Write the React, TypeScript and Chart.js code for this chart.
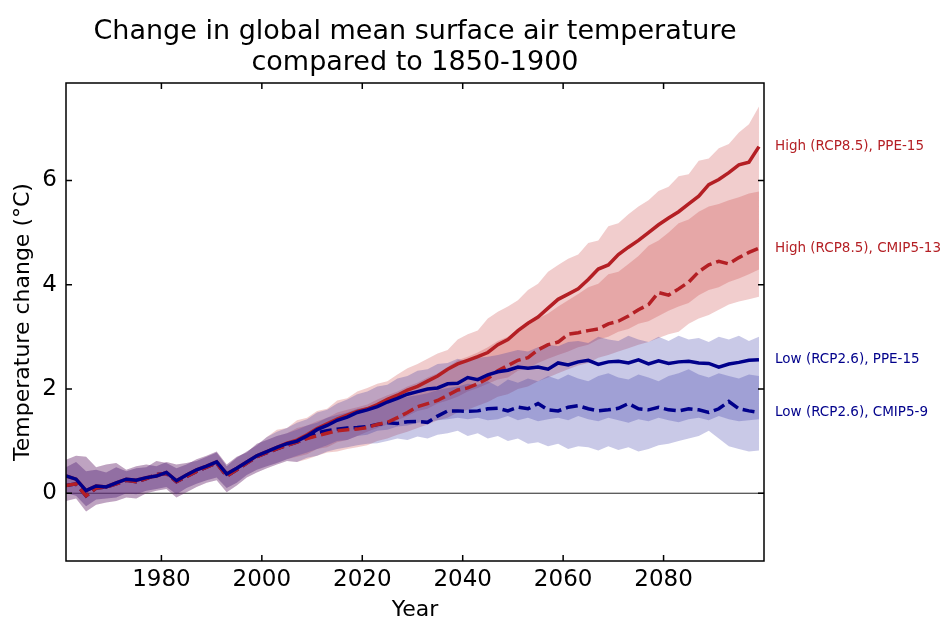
import React, { useEffect, useRef } from 'react';
import Chart from 'chart.js/auto';

// years (every second year)
const YEARS = [
  1961, 1963, 1965, 1967, 1969, 1971, 1973, 1975, 1977, 1979,
  1981, 1983, 1985, 1987, 1989, 1991, 1993, 1995, 1997, 1999,
  2001, 2003, 2005, 2007, 2009, 2011, 2013, 2015, 2017, 2019,
  2021, 2023, 2025, 2027, 2029, 2031, 2033, 2035, 2037, 2039,
  2041, 2043, 2045, 2047, 2049, 2051, 2053, 2055, 2057, 2059,
  2061, 2063, 2065, 2067, 2069, 2071, 2073, 2075, 2077, 2079,
  2081, 2083, 2085, 2087, 2089, 2091, 2093, 2095, 2097, 2099,
];

const X_TICKS = [1980, 2000, 2020, 2040, 2060, 2080];
const Y_TICKS = [0, 2, 4, 6];

// central estimates
const HIGH_PPE = [
  0.33, 0.27, 0.05, 0.14, 0.12, 0.20, 0.27, 0.25, 0.30, 0.33,
  0.40, 0.24, 0.35, 0.45, 0.52, 0.60, 0.37, 0.48, 0.60, 0.72,
  0.80, 0.88, 0.96, 1.02, 1.12, 1.24, 1.33, 1.42, 1.50, 1.57,
  1.62, 1.70, 1.80, 1.88, 1.98, 2.05, 2.15, 2.25, 2.38, 2.48,
  2.55, 2.62, 2.70, 2.85, 2.95, 3.12, 3.26, 3.38, 3.55, 3.72,
  3.82, 3.92, 4.10, 4.30, 4.38, 4.58, 4.72, 4.85, 5.00, 5.15,
  5.28, 5.40, 5.55, 5.70, 5.92, 6.02, 6.15, 6.30, 6.35, 6.65,
];
const HIGH_CMIP = [
  0.15, 0.18, -0.05, 0.10, 0.12, 0.18, 0.25, 0.22, 0.28, 0.36,
  0.38, 0.22, 0.32, 0.42, 0.50, 0.58, 0.33, 0.45, 0.58, 0.70,
  0.78, 0.85, 0.92, 0.98, 1.05, 1.10, 1.15, 1.20, 1.22, 1.23,
  1.26, 1.32, 1.36, 1.45, 1.55, 1.66, 1.72, 1.78, 1.88, 1.98,
  2.02, 2.10, 2.20, 2.35, 2.45, 2.55, 2.60, 2.75, 2.85, 2.90,
  3.05, 3.08, 3.12, 3.15, 3.25, 3.30, 3.40, 3.52, 3.62, 3.85,
  3.80, 3.92, 4.05, 4.25, 4.38, 4.45, 4.40, 4.52, 4.62, 4.70,
];
const LOW_PPE = [
  0.33, 0.27, 0.05, 0.14, 0.12, 0.20, 0.27, 0.25, 0.30, 0.33,
  0.40, 0.24, 0.35, 0.45, 0.52, 0.60, 0.37, 0.48, 0.60, 0.72,
  0.80, 0.88, 0.95, 1.00, 1.10, 1.22, 1.30, 1.40, 1.46, 1.55,
  1.60, 1.66, 1.75, 1.82, 1.90, 1.95, 2.00, 2.02, 2.10, 2.11,
  2.22, 2.18, 2.27, 2.33, 2.36, 2.42, 2.40, 2.42, 2.38, 2.50,
  2.46, 2.52, 2.55, 2.47, 2.52, 2.53, 2.50, 2.56, 2.48, 2.54,
  2.49, 2.52, 2.53, 2.50, 2.49, 2.42, 2.48, 2.51, 2.55, 2.56,
];
const LOW_CMIP = [
  0.15, 0.18, -0.05, 0.10, 0.12, 0.18, 0.25, 0.22, 0.28, 0.36,
  0.38, 0.22, 0.32, 0.42, 0.50, 0.58, 0.33, 0.45, 0.58, 0.70,
  0.78, 0.85, 0.92, 0.98, 1.06, 1.16, 1.20, 1.23, 1.25, 1.26,
  1.28, 1.32, 1.35, 1.34, 1.37, 1.38, 1.36, 1.48, 1.58, 1.58,
  1.57, 1.58, 1.62, 1.63, 1.58, 1.65, 1.62, 1.72, 1.60, 1.58,
  1.65, 1.68, 1.62, 1.58, 1.60, 1.63, 1.72, 1.62, 1.60, 1.65,
  1.60, 1.58, 1.62, 1.60, 1.55, 1.62, 1.76, 1.62, 1.58, 1.55,
];

// uncertainty ranges
const HIGH_PPE_UPPER = [
  0.64, 0.72, 0.70, 0.50, 0.55, 0.58, 0.45, 0.52, 0.55, 0.52,
  0.60, 0.55, 0.58, 0.62, 0.70, 0.78, 0.52, 0.68, 0.80, 0.92,
  1.08, 1.22, 1.25, 1.40, 1.45, 1.58, 1.62, 1.78, 1.82, 1.95,
  2.02, 2.10, 2.15, 2.28, 2.40, 2.48, 2.58, 2.68, 2.75, 2.95,
  3.05, 3.12, 3.35, 3.48, 3.58, 3.70, 3.90, 4.02, 4.25, 4.38,
  4.50, 4.58, 4.80, 4.85, 5.12, 5.18, 5.35, 5.50, 5.62, 5.80,
  5.88, 6.08, 6.12, 6.38, 6.42, 6.62, 6.70, 6.92, 7.08, 7.42,
];
const HIGH_PPE_LOWER = [
  0.00, -0.05, -0.25, -0.12, -0.10, -0.08, 0.00, -0.02, 0.05, 0.08,
  0.12, -0.02, 0.10, 0.18, 0.25, 0.30, 0.10, 0.20, 0.35, 0.45,
  0.52, 0.58, 0.65, 0.70, 0.75, 0.85, 0.88, 0.98, 1.02, 1.10,
  1.18, 1.25, 1.32, 1.40, 1.48, 1.58, 1.62, 1.72, 1.78, 1.85,
  1.95, 2.02, 2.10, 2.18, 2.22, 2.35, 2.40, 2.50, 2.58, 2.65,
  2.72, 2.80, 2.85, 2.95, 3.00, 3.10, 3.15, 3.25, 3.30, 3.40,
  3.50, 3.58, 3.65, 3.80, 3.90, 3.95, 4.05, 4.12, 4.20, 4.29,
];
const HIGH_CMIP_UPPER = [
  0.50, 0.60, 0.42, 0.45, 0.40, 0.50, 0.42, 0.48, 0.50, 0.62,
  0.58, 0.48, 0.55, 0.65, 0.72, 0.80, 0.55, 0.70, 0.78, 0.95,
  1.02, 1.10, 1.15, 1.25, 1.30, 1.38, 1.45, 1.55, 1.60, 1.65,
  1.70, 1.80, 1.88, 1.95, 2.05, 2.12, 2.22, 2.30, 2.42, 2.55,
  2.62, 2.70, 2.80, 2.92, 3.00, 3.12, 3.22, 3.35, 3.45, 3.58,
  3.70, 3.82, 3.95, 4.02, 4.20, 4.25, 4.40, 4.55, 4.75, 4.85,
  5.00, 5.18, 5.25, 5.40, 5.50, 5.55, 5.62, 5.68, 5.75, 5.79,
];
const HIGH_CMIP_LOWER = [
  -0.15, -0.10, -0.35, -0.22, -0.18, -0.15, -0.08, -0.10, 0.00, 0.05,
  0.08, -0.08, 0.02, 0.12, 0.20, 0.25, 0.02, 0.15, 0.30, 0.40,
  0.48, 0.55, 0.62, 0.60, 0.65, 0.72, 0.78, 0.80, 0.85, 0.88,
  0.92, 1.00, 1.05, 1.12, 1.18, 1.25, 1.32, 1.40, 1.45, 1.55,
  1.60, 1.68, 1.75, 1.85, 1.90, 2.00, 2.05, 2.15, 2.22, 2.30,
  2.38, 2.45, 2.50, 2.60, 2.65, 2.72, 2.78, 2.85, 2.90, 2.98,
  3.05, 3.10, 3.25, 3.35, 3.42, 3.52, 3.62, 3.68, 3.72, 3.77,
];
const LOW_PPE_UPPER = [
  0.64, 0.72, 0.70, 0.50, 0.55, 0.58, 0.45, 0.52, 0.55, 0.52,
  0.60, 0.55, 0.58, 0.62, 0.70, 0.78, 0.52, 0.68, 0.80, 0.92,
  1.08, 1.18, 1.25, 1.35, 1.42, 1.55, 1.60, 1.72, 1.80, 1.90,
  1.95, 2.05, 2.08, 2.20, 2.25, 2.35, 2.38, 2.48, 2.50, 2.58,
  2.52, 2.60, 2.62, 2.65, 2.70, 2.75, 2.72, 2.80, 2.85, 2.82,
  2.90, 2.92, 2.88, 3.00, 2.95, 2.92, 3.02, 2.95, 2.90, 3.00,
  2.92, 3.02, 2.95, 2.98, 2.90, 3.00, 2.95, 3.02, 2.92, 3.00,
];
const LOW_PPE_LOWER = [
  0.00, -0.05, -0.25, -0.12, -0.10, -0.08, 0.00, -0.02, 0.05, 0.08,
  0.12, -0.02, 0.10, 0.18, 0.25, 0.30, 0.10, 0.20, 0.35, 0.45,
  0.52, 0.58, 0.65, 0.72, 0.78, 0.85, 0.92, 1.00, 1.02, 1.10,
  1.12, 1.20, 1.22, 1.28, 1.30, 1.35, 1.38, 1.40, 1.42, 1.45,
  1.42, 1.45, 1.40, 1.42, 1.48, 1.40, 1.45, 1.38, 1.42, 1.45,
  1.40, 1.48, 1.42, 1.38, 1.45, 1.40, 1.35, 1.42, 1.38, 1.45,
  1.40, 1.36, 1.42, 1.45, 1.40, 1.48, 1.42, 1.38, 1.40, 1.42,
];
const LOW_CMIP_UPPER = [
  0.50, 0.60, 0.42, 0.45, 0.40, 0.50, 0.42, 0.48, 0.50, 0.62,
  0.58, 0.48, 0.55, 0.65, 0.72, 0.80, 0.55, 0.70, 0.78, 0.95,
  1.02, 1.10, 1.15, 1.22, 1.30, 1.35, 1.45, 1.50, 1.55, 1.62,
  1.65, 1.72, 1.75, 1.80, 1.85, 1.88, 1.92, 1.98, 2.02, 2.05,
  2.10, 2.08, 2.15, 2.05, 2.18, 2.12, 2.20, 2.15, 2.25, 2.18,
  2.28, 2.20, 2.15, 2.25, 2.30, 2.22, 2.18, 2.28, 2.22, 2.15,
  2.25, 2.30, 2.38, 2.28, 2.22, 2.30, 2.25, 2.20, 2.28, 2.25,
];
const LOW_CMIP_LOWER = [
  -0.15, -0.10, -0.35, -0.22, -0.18, -0.15, -0.08, -0.10, 0.00, 0.05,
  0.08, -0.08, 0.02, 0.12, 0.20, 0.25, 0.02, 0.15, 0.30, 0.40,
  0.48, 0.55, 0.62, 0.60, 0.68, 0.72, 0.80, 0.85, 0.88, 0.92,
  0.95, 0.96, 1.00, 1.05, 1.02, 1.09, 1.05, 1.12, 1.15, 1.20,
  1.10, 1.15, 1.05, 1.10, 1.00, 1.05, 0.95, 0.98, 0.90, 0.95,
  0.85, 0.90, 0.88, 0.82, 0.90, 0.83, 0.88, 0.80, 0.85, 0.92,
  0.95, 1.00, 1.05, 1.10, 1.20, 1.05, 0.90, 0.85, 0.80, 0.82,
];

const RED = '#b41f24';
const BLUE = '#00008b';
const RED_BAND = 'rgba(200, 55, 55, 0.25)';
const BLUE_BAND = 'rgba(40, 40, 160, 0.25)';
const FONT = '"DejaVu Sans", sans-serif';

const toPoints = (ys: number[]) => YEARS.map((x, i) => ({ x, y: ys[i] }));

const lineSet = (label: string, ys: number[], color: string, dashed: boolean, order: number) => ({
  label,
  data: toPoints(ys),
  borderColor: color,
  borderWidth: 3.5,
  borderDash: dashed ? [12, 5] : [],
  pointRadius: 0,
  fill: false,
  order,
});

// lower edge (index n) followed by upper edge filled down to it (index n + 1)
const bandSets = (lower: number[], upper: number[], color: string) => [
  { label: '', data: toPoints(lower), borderColor: 'transparent', borderWidth: 0, pointRadius: 0, fill: false, order: 10 },
  { label: '', data: toPoints(upper), borderColor: 'transparent', borderWidth: 0, pointRadius: 0, fill: '-1', backgroundColor: color, order: 10 },
];

const LABELS = [
  { text: 'High (RCP8.5), PPE-15', values: HIGH_PPE, color: RED },
  { text: 'High (RCP8.5), CMIP5-13', values: HIGH_CMIP, color: RED },
  { text: 'Low (RCP2.6), PPE-15', values: LOW_PPE, color: BLUE },
  { text: 'Low (RCP2.6), CMIP5-9', values: LOW_CMIP, color: BLUE },
];

const overlay = {
  id: 'overlay',
  beforeDatasetsDraw(chart: any) {
    const { ctx, chartArea: a, scales } = chart;
    const y0 = scales.y.getPixelForValue(0);
    ctx.save();
    ctx.strokeStyle = '#222';
    ctx.lineWidth = 1;
    ctx.beginPath();
    ctx.moveTo(a.left, y0);
    ctx.lineTo(a.right, y0);
    ctx.stroke();
    ctx.restore();
  },
  afterDraw(chart: any) {
    const { ctx, chartArea: a, scales } = chart;
    ctx.save();
    // frame
    ctx.strokeStyle = '#000';
    ctx.lineWidth = 1.5;
    ctx.strokeRect(a.left, a.top, a.right - a.left, a.bottom - a.top);
    // inward ticks on all four sides
    ctx.beginPath();
    X_TICKS.forEach((v) => {
      const x = scales.x.getPixelForValue(v);
      ctx.moveTo(x, a.bottom);
      ctx.lineTo(x, a.bottom - 6);
      ctx.moveTo(x, a.top);
      ctx.lineTo(x, a.top + 6);
    });
    Y_TICKS.forEach((v) => {
      const y = scales.y.getPixelForValue(v);
      ctx.moveTo(a.left, y);
      ctx.lineTo(a.left + 6, y);
      ctx.moveTo(a.right, y);
      ctx.lineTo(a.right - 6, y);
    });
    ctx.stroke();

    // title
    const cx = (a.left + a.right) / 2;
    ctx.fillStyle = '#000';
    ctx.textAlign = 'center';
    ctx.textBaseline = 'alphabetic';
    ctx.font = `27px ${FONT}`;
    ctx.fillText('Change in global mean surface air temperature', cx, 39);
    ctx.fillText('compared to 1850-1900', cx, 70);

    // axis titles
    ctx.font = `22px ${FONT}`;
    ctx.fillText('Year', cx, 616);
    ctx.save();
    ctx.translate(23, (a.top + a.bottom) / 2);
    ctx.rotate(-Math.PI / 2);
    ctx.textBaseline = 'middle';
    ctx.fillText('Temperature change (°C)', 0, 0);
    ctx.restore();

    // series labels at the end values
    ctx.font = `13.5px ${FONT}`;
    ctx.textAlign = 'left';
    ctx.textBaseline = 'middle';
    LABELS.forEach((l) => {
      ctx.fillStyle = l.color;
      ctx.fillText(l.text, a.right + 11, scales.y.getPixelForValue(l.values[l.values.length - 1]));
    });
    ctx.restore();
  },
};

const App: React.FC = () => {
  const canvasRef = useRef<HTMLCanvasElement>(null);
  const chartRef = useRef<Chart | null>(null);

  useEffect(() => {
    if (!canvasRef.current) return;
    if (chartRef.current) chartRef.current.destroy();

    chartRef.current = new Chart(canvasRef.current, {
      type: 'line',
      data: {
        datasets: [
          lineSet('Low (RCP2.6), PPE-15', LOW_PPE, BLUE, false, 0),
          lineSet('High (RCP8.5), PPE-15', HIGH_PPE, RED, false, 1),
          lineSet('High (RCP8.5), CMIP5-13', HIGH_CMIP, RED, true, 2),
          lineSet('Low (RCP2.6), CMIP5-9', LOW_CMIP, BLUE, true, 3),
          // lower index is painted later, so the blue ranges lie over the red ones
          ...bandSets(LOW_CMIP_LOWER, LOW_CMIP_UPPER, BLUE_BAND),
          ...bandSets(LOW_PPE_LOWER, LOW_PPE_UPPER, BLUE_BAND),
          ...bandSets(HIGH_CMIP_LOWER, HIGH_CMIP_UPPER, RED_BAND),
          ...bandSets(HIGH_PPE_LOWER, HIGH_PPE_UPPER, RED_BAND),
        ] as any,
      },
      options: {
        animation: false,
        responsive: true,
        maintainAspectRatio: false,
        events: [],
        elements: { line: { tension: 0 } },
        layout: { padding: { top: 83, right: 180, left: 0, bottom: 0 } },
        plugins: {
          legend: { display: false },
          tooltip: { enabled: false },
          title: { display: false },
        },
        scales: {
          x: {
            type: 'linear',
            min: 1961,
            max: 2100,
            afterBuildTicks: (s: any) => { s.ticks = X_TICKS.map((value) => ({ value })); },
            afterFit: (s: any) => { s.height = 58; },
            grid: { display: false, drawTicks: false },
            border: { display: false },
            ticks: {
              color: '#000',
              font: { family: FONT, size: 23 },
              padding: 5,
              maxRotation: 0,
              autoSkip: false,
              callback: (v: any) => String(v),
            },
          },
          y: {
            type: 'linear',
            min: -1.3,
            max: 7.87,
            afterBuildTicks: (s: any) => { s.ticks = Y_TICKS.map((value) => ({ value })); },
            afterFit: (s: any) => { s.width = 66; },
            grid: { display: false, drawTicks: false },
            border: { display: false },
            ticks: {
              color: '#000',
              font: { family: FONT, size: 23 },
              padding: 9,
              autoSkip: false,
              callback: (v: any) => String(v),
            },
          },
        },
      },
      plugins: [overlay],
    });

    return () => {
      if (chartRef.current) {
        chartRef.current.destroy();
        chartRef.current = null;
      }
    };
  }, []);

  return (
    <div style={{ position: 'absolute', left: 0, top: 0, width: 944, height: 619, background: '#fff' }}>
      <canvas ref={canvasRef} />
    </div>
  );
};

export default App;
